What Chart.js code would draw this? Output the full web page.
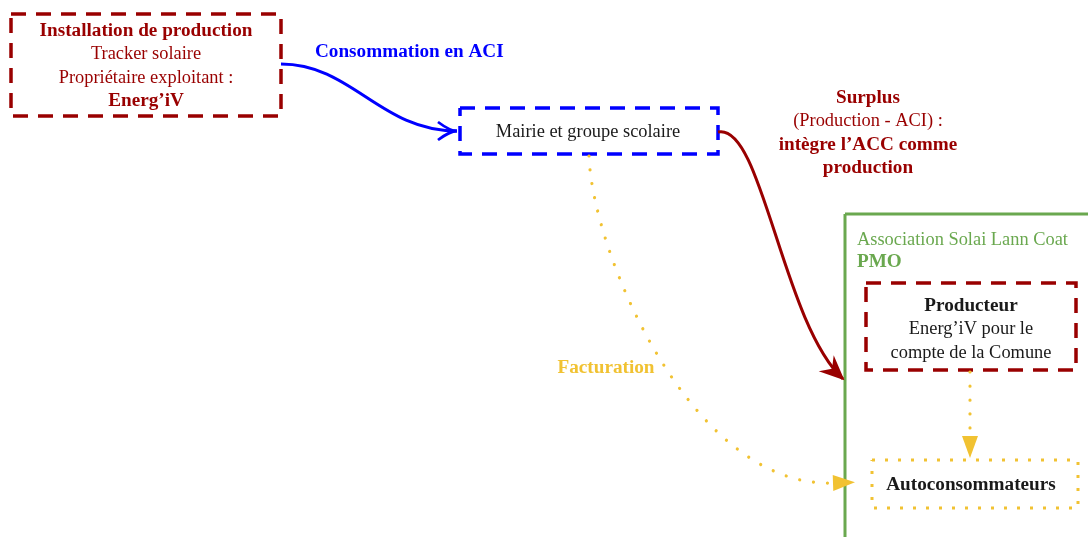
<!DOCTYPE html>
<html>
<head>
<meta charset="utf-8">
<script src="https://cdn.jsdelivr.net/npm/chart.js@4.4.1/dist/chart.umd.min.js"></script>
<style>
  html, body { margin: 0; padding: 0; background: #fff; }
  #diagram { display: block; }
</style>
</head>
<body>
<canvas id="diagram" width="1088" height="537"></canvas>
<script>
// Nodes of the diagram (in diagram units, 0..1088 x 0..537)
const boxNames = ['Installation de production', 'Mairie et groupe scolaire', 'PMO', 'Producteur', 'Autoconsommateurs'];
const boxLeft = [11, 460, 845, 866, 872];
const boxTop = [14, 108, 214, 283, 460];
const boxRight = [281, 718, 1110, 1076, 1078];
const boxBottom = [116, 154, 560, 370, 508];
const boxKind = ['red', 'blue', 'green', 'red', 'yellow'];

// Text inside / next to the nodes: [text, bold]
const installLines = [['Installation de production', true], ['Tracker solaire', false], ['Propriétaire exploitant :', false], ['Energ’iV', true]];
const mairieLines = [['Mairie et groupe scolaire', false]];
const pmoLines = [['Association Solai Lann Coat', false], ['PMO', true]];
const producteurLines = [['Producteur', true], ['Energ’iV pour le', false], ['compte de la Comune', false]];
const autoconsoLines = [['Autoconsommateurs', true]];

// Flows between nodes (cubic curves)
const flowKind = ['blue', 'red', 'yellow', 'yellow'];
const flowStart = [[281, 64], [718, 132], [589, 156], [970, 372]];
const flowCtrl1 = [[352, 64], [762, 122], [592, 250], [970, 400]];
const flowCtrl2 = [[380, 131], [782, 322], [690, 488], [970, 410]];
const flowEnd = [[457, 131], [843, 379], [833, 483], [970, 436]];
const flowLabels = [
  [['Consommation en ACI', true]],
  [['Surplus', true], ['(Production - ACI) :', false], ['intègre l’ACC comme', true], ['production', true]],
  [['Facturation', true]],
  []
];

const colors = { red: '#990000', blue: '#0000ff', yellow: '#f1c232', green: '#6aa84f', text: '#1a1a1a' };
const FONT = '"Liberation Serif", "DejaVu Serif", serif';

const rectSets = boxNames.map(function(name, i) {
  const k = boxKind[i];
  let dash = [15, 10], width = 3.5;
  if (k === 'yellow') { dash = [3, 10]; width = 3; }
  if (k === 'green') { dash = []; width = 3; }
  return {
    label: name,
    data: [
      { x: boxLeft[i], y: boxTop[i] },
      { x: boxRight[i], y: boxTop[i] },
      { x: boxRight[i], y: boxBottom[i] },
      { x: boxLeft[i], y: boxBottom[i] },
      { x: boxLeft[i], y: boxTop[i] }
    ],
    showLine: true,
    borderColor: colors[k],
    borderWidth: width,
    borderDash: dash,
    pointRadius: 0,
    tension: 0,
    fill: false
  };
});

function drawLines(ctx, lines, x, y, step, align, colorFor) {
  ctx.textAlign = align;
  ctx.textBaseline = 'middle';
  lines.forEach(function(l, j) {
    ctx.font = l[1] ? 'bold 19.2px ' + FONT : '18.4px ' + FONT;
    ctx.fillStyle = colorFor(l);
    ctx.fillText(l[0], x, y + j * step);
  });
}

const diagramPlugin = {
  id: 'diagram',
  afterDatasetsDraw: function(chart) {
    const ctx = chart.ctx;
    const sx = chart.scales.x, sy = chart.scales.y;
    const P = function(p) { return [sx.getPixelForValue(p[0]), sy.getPixelForValue(p[1])]; };
    const step = sy.getPixelForValue(23.4) - sy.getPixelForValue(0);

    // flows
    flowKind.forEach(function(k, i) {
      const a = P(flowStart[i]), b = P(flowCtrl1[i]), c = P(flowCtrl2[i]), d = P(flowEnd[i]);
      ctx.save();
      ctx.strokeStyle = colors[k];
      ctx.fillStyle = colors[k];
      if (k === 'yellow') {
        ctx.lineWidth = 3.2;
        ctx.setLineDash([0.01, 14]);
        ctx.lineCap = 'round';
      } else {
        ctx.lineWidth = 3;
        ctx.setLineDash([]);
      }
      ctx.beginPath();
      ctx.moveTo(a[0], a[1]);
      ctx.bezierCurveTo(b[0], b[1], c[0], c[1], d[0], d[1]);
      ctx.stroke();
      ctx.setLineDash([]);
      ctx.lineCap = 'butt';

      let dx = d[0] - c[0], dy = d[1] - c[1];
      const len = Math.hypot(dx, dy);
      dx /= len; dy /= len;
      const nx = -dy, ny = dx;
      ctx.beginPath();
      if (k === 'blue') {
        ctx.lineWidth = 2.8;
        ctx.moveTo(d[0] - dx * 19 + nx * 9, d[1] - dy * 19 + ny * 9);
        ctx.quadraticCurveTo(d[0] - dx * 7, d[1] - dy * 7, d[0], d[1]);
        ctx.quadraticCurveTo(d[0] - dx * 7, d[1] - dy * 7, d[0] - dx * 19 - nx * 9, d[1] - dy * 19 - ny * 9);
        ctx.stroke();
      } else if (k === 'red') {
        ctx.moveTo(d[0] + dx * 2, d[1] + dy * 2);
        ctx.lineTo(d[0] - dx * 23 + nx * 11, d[1] - dy * 23 + ny * 11);
        ctx.lineTo(d[0] - dx * 15, d[1] - dy * 15);
        ctx.lineTo(d[0] - dx * 23 - nx * 11, d[1] - dy * 23 - ny * 11);
        ctx.closePath();
        ctx.fill();
      } else {
        ctx.moveTo(d[0] + dx * 22, d[1] + dy * 22);
        ctx.lineTo(d[0] + nx * 8, d[1] + ny * 8);
        ctx.lineTo(d[0] - nx * 8, d[1] - ny * 8);
        ctx.closePath();
        ctx.fill();
      }
      ctx.restore();
    });

    // flow labels
    ctx.save();
    let p = P([315, 52]);
    drawLines(ctx, flowLabels[0], p[0], p[1], step, 'left', function() { return colors.blue; });
    p = P([868, 98]);
    drawLines(ctx, flowLabels[1], p[0], p[1], step, 'center', function() { return colors.red; });
    p = P([606, 368]);
    drawLines(ctx, flowLabels[2], p[0], p[1], step, 'center', function() { return colors.yellow; });

    // node texts
    p = P([146, 31]);
    drawLines(ctx, installLines, p[0], p[1], step, 'center', function() { return colors.red; });
    p = P([588, 132]);
    drawLines(ctx, mairieLines, p[0], p[1], step, 'center', function() { return colors.text; });
    p = P([857, 240]);
    drawLines(ctx, pmoLines, p[0], p[1], step * 0.94, 'left', function() { return colors.green; });
    p = P([971, 306]);
    drawLines(ctx, producteurLines, p[0], p[1], step, 'center', function() { return colors.text; });
    p = P([971, 485]);
    drawLines(ctx, autoconsoLines, p[0], p[1], step, 'center', function() { return colors.text; });
    ctx.restore();
  }
};

new Chart(document.getElementById('diagram'), {
  type: 'scatter',
  data: { datasets: rectSets },
  options: {
    responsive: false,
    animation: false,
    devicePixelRatio: 1,
    layout: { padding: 0 },
    plugins: { legend: { display: false }, tooltip: { enabled: false } },
    scales: {
      x: { type: 'linear', min: 0, max: 1088, display: false },
      y: { type: 'linear', min: 0, max: 537, reverse: true, display: false }
    }
  },
  plugins: [diagramPlugin]
});
</script>
</body>
</html>
